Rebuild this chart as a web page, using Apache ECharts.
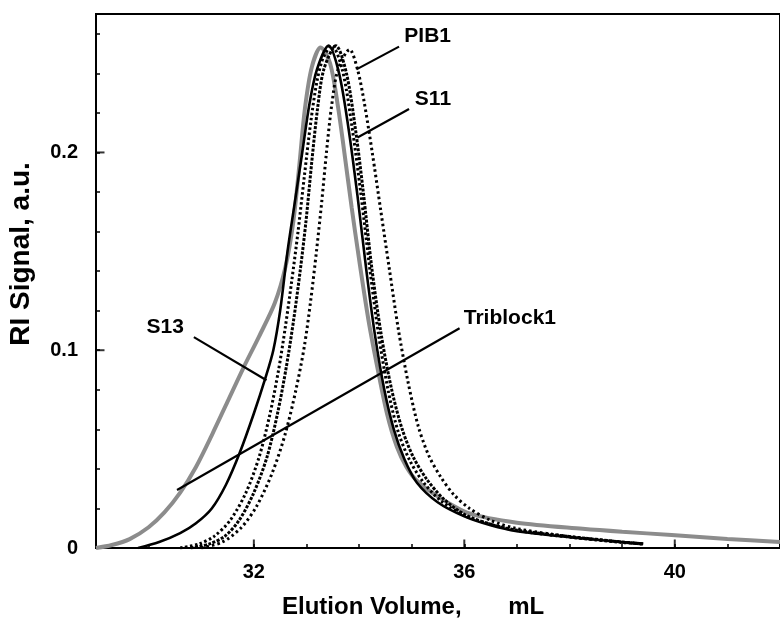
<!DOCTYPE html>
<html>
<head>
<meta charset="utf-8">
<script src="https://cdn.jsdelivr.net/npm/echarts@6/dist/echarts.min.js"></script>
<style>
html,body{margin:0;padding:0;background:#fff;}
#chart{width:780px;height:620px;}
</style>
</head>
<body>
<div id="chart"></div>
<script>
// ---- data ----
const xTickLabels = [32, 36, 40];
const yTickLabels = [0, 0.1, 0.2];

const triblock1 = [[29.0,0.0],[29.3,0.0015],[29.64,0.0045],[30.0,0.0105],[30.3,0.018],[30.6,0.028],[30.9,0.041],[31.2,0.057],[31.5,0.074],[31.8,0.091],[32.1,0.107],[32.4,0.124],[32.6,0.142],[32.75,0.165],[32.87,0.195],[32.97,0.222],[33.1,0.243],[33.27,0.253],[33.45,0.245],[33.6,0.223],[33.72,0.2],[33.86,0.172],[34.0,0.146],[34.18,0.115],[34.35,0.091],[34.53,0.068],[34.72,0.051],[34.9,0.041],[35.1,0.034],[35.5,0.026],[36.1,0.0175],[37.0,0.0128],[38.25,0.0097],[39.0,0.0082],[39.94,0.0066],[41.0,0.0046],[42.0,0.003]];

const s13 = [[29.8,0.0],[30.2,0.003],[30.6,0.0075],[30.9,0.0125],[31.2,0.02],[31.47,0.032],[31.73,0.048],[32.0,0.068],[32.22,0.086],[32.37,0.1],[32.5,0.12],[32.64,0.15],[32.78,0.175],[32.92,0.2],[33.06,0.225],[33.2,0.242],[33.42,0.254],[33.62,0.24],[33.8,0.212],[33.97,0.178],[34.14,0.14],[34.3,0.108],[34.48,0.08],[34.66,0.06],[34.86,0.045],[35.1,0.033],[35.5,0.023],[36.0,0.016],[36.5,0.0115],[37.0,0.0085],[38.0,0.0055],[39.0,0.003],[39.4,0.0022]];

const sampleD = [[30.6,0.0],[30.95,0.002],[31.25,0.006],[31.55,0.014],[31.85,0.028],[32.1,0.046],[32.3,0.067],[32.47,0.09],[32.6,0.112],[32.72,0.135],[32.84,0.16],[32.96,0.188],[33.08,0.215],[33.2,0.236],[33.32,0.248],[33.48,0.254],[33.68,0.242],[33.86,0.214],[34.03,0.18],[34.2,0.142],[34.37,0.108],[34.55,0.08],[34.74,0.059],[34.95,0.045],[35.2,0.034],[35.55,0.024],[36.0,0.0165],[36.5,0.012],[37.0,0.0088],[38.0,0.0055],[39.0,0.0028],[39.4,0.002]];

const s11 = [[30.8,0.0],[31.15,0.002],[31.45,0.006],[31.72,0.014],[32.0,0.028],[32.25,0.046],[32.45,0.068],[32.62,0.092],[32.76,0.116],[32.88,0.14],[32.99,0.165],[33.1,0.195],[33.21,0.222],[33.33,0.242],[33.56,0.254],[33.76,0.24],[33.93,0.212],[34.08,0.18],[34.24,0.142],[34.42,0.108],[34.62,0.08],[34.82,0.06],[35.03,0.046],[35.28,0.035],[35.6,0.025],[36.0,0.017],[36.5,0.012],[37.0,0.009],[38.0,0.0058],[39.0,0.003],[39.4,0.002]];

const pib1 = [[31.0,0.0],[31.4,0.003],[31.75,0.01],[32.05,0.021],[32.35,0.038],[32.6,0.058],[32.8,0.08],[32.96,0.102],[33.08,0.125],[33.19,0.15],[33.29,0.175],[33.38,0.2],[33.48,0.224],[33.6,0.242],[33.82,0.252],[33.97,0.242],[34.1,0.225],[34.25,0.2],[34.41,0.171],[34.57,0.142],[34.75,0.11],[34.93,0.084],[35.12,0.062],[35.32,0.047],[35.55,0.036],[35.8,0.027],[36.1,0.02],[36.5,0.014],[37.0,0.0098],[38.0,0.0058],[39.0,0.003],[39.4,0.002]];

// annotation labels: text anchor and pointer line (data units)
const annoNames = ['PIB1', 'S11', 'S13', 'Triblock1'];
const annoText  = [[34.86,0.259],[35.06,0.227],[29.96,0.1116],[35.99,0.116]];
const annoLines = [[[34.76,0.2535],[33.95,0.242]],[[34.95,0.222],[33.97,0.2076]],[[30.86,0.1066],[32.24,0.0848]],[[35.91,0.1111],[30.54,0.0293]]];

// ---- chart ----
const chart = echarts.init(document.getElementById('chart'), null, {renderer:'canvas'});
const FONT = 'Liberation Sans, Arial, Helvetica, sans-serif';

function curve(name, data, ls, z) {
  return {
    name: name, type: 'line', data: data, showSymbol: false, symbol: 'none',
    smooth: 0.3, z: z, silent: true, animation: false,
    lineStyle: ls
  };
}

const option = {
  animation: false,
  backgroundColor: '#fff',
  grid: { left: 96, top: 14, right: -6, bottom: 72, show: true, borderColor: '#000', borderWidth: 2 },
  xAxis: {
    type: 'value', min: 29, max: 42, interval: 1,
    axisLine: { show: true, lineStyle: { color: '#000', width: 2 } },
    axisTick: { show: true, inside: true, length: 4, lineStyle: { color: '#000', width: 1.5 } },
    splitLine: { show: false },
    axisLabel: {
      color: '#000', fontFamily: FONT, fontWeight: 'bold', fontSize: 20, margin: 14,
      showMinLabel: true, showMaxLabel: false,
      formatter: v => (xTickLabels.indexOf(Math.round(v)) >= 0 && Math.abs(v - Math.round(v)) < 1e-9) ? String(Math.round(v)) : ''
    }
  },
  yAxis: {
    type: 'value', min: 0, max: 0.27, interval: 0.02,
    axisLine: { show: true, lineStyle: { color: '#000', width: 2 } },
    axisTick: { show: true, inside: true, length: 4, lineStyle: { color: '#000', width: 1.5 } },
    splitLine: { show: false },
    axisLabel: {
      color: '#000', fontFamily: FONT, fontWeight: 'bold', fontSize: 20, margin: 18,
      showMaxLabel: false,
      formatter: v => {
        const r = Math.round(v * 10) / 10;
        if (Math.abs(v - r) < 1e-9 && yTickLabels.indexOf(r) >= 0) return r === 0 ? '0' : String(r);
        return '';
      }
    }
  },
  graphic: [
    { type: 'text', x: 21, y: 254, rotation: Math.PI / 2,
      style: { text: 'RI Signal, a.u.', font: 'bold 28px ' + FONT, fill: '#000', textAlign: 'center', textVerticalAlign: 'middle' } },
    { type: 'text', x: 282, y: 607,
      style: { text: 'Elution Volume,       mL', font: 'bold 24px ' + FONT, fill: '#000', textAlign: 'left', textVerticalAlign: 'middle' } }
  ],
  series: [
    curve('Triblock1', triblock1, { color: '#8c8c8c', width: 4 }, 2),
    curve('S13', s13, { color: '#000', width: 2.6 }, 3),
    curve('sample', sampleD, { color: '#000', width: 3, type: [2.5, 2.5] }, 3),
    curve('S11', s11, { color: '#000', width: 3, type: [3, 1.5] }, 3),
    curve('PIB1', pib1, { color: '#000', width: 3, type: [2.5, 3] }, 3),
    {
      type: 'lines', coordinateSystem: 'cartesian2d', silent: true, z: 5, animation: false,
      symbol: ['none', 'none'],
      lineStyle: { color: '#000', width: 2.2, opacity: 1 },
      data: annoLines.map(c => ({ coords: c }))
    },
    {
      type: 'scatter', silent: true, z: 6, symbolSize: 0, clip: false, animation: false,
      data: annoNames.map((n, i) => ({ name: n, value: annoText[i] })),
      label: { show: true, position: 'right', distance: 0, formatter: '{b}', color: '#000', opacity: 1,
               textBorderWidth: 0, fontFamily: FONT, fontWeight: 'bold', fontSize: 21 }
    },
    {
      type: 'scatter', silent: true, z: 7, clip: false, animation: false,
      symbol: 'rect', symbolSize: [2, 9], symbolOffset: [0, -4],
      itemStyle: { color: '#000' },
      data: xTickLabels.map(v => [v, 0])
    },
    {
      type: 'scatter', silent: true, z: 7, clip: false, animation: false,
      symbol: 'rect', symbolSize: [9, 2], symbolOffset: [4, 0],
      itemStyle: { color: '#000' },
      data: yTickLabels.filter(v => v > 0).map(v => [29, v])
    }
  ]
};
chart.setOption(option);
</script>
</body>
</html>
